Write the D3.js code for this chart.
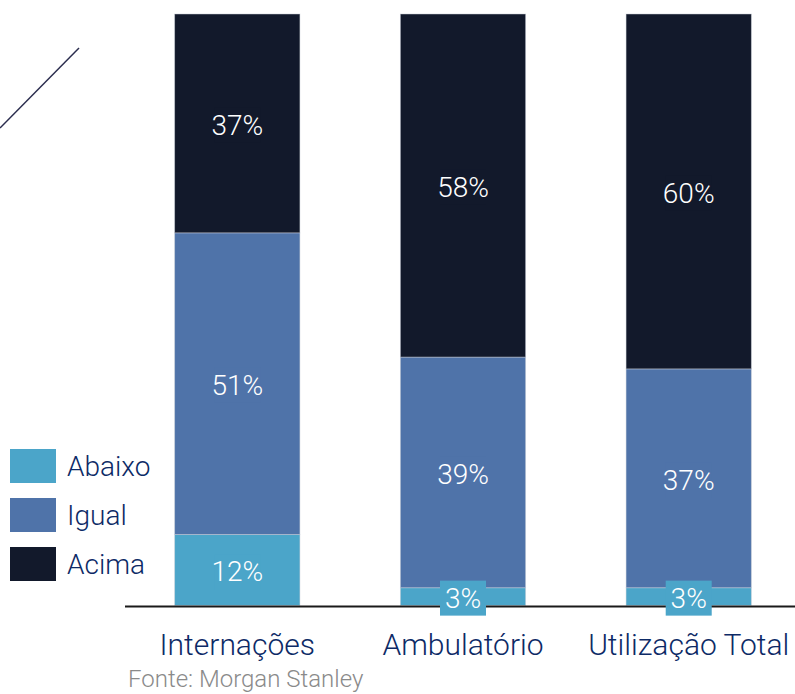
<!DOCTYPE html>
<html>
<head>
<meta charset="utf-8">
<script src="https://cdn.jsdelivr.net/npm/d3@7"></script>
<style>
	html, body { margin: 0; padding: 0; background: #fff; }
	svg { display: block; font-family: Roboto, "Noto Sans", sans-serif; font-weight: 300; }
</style>
</head>
<body>
<div id="chart"></div>
<script>
/* global d3 */

// Chart data
var categories = ['Internações', 'Ambulatório', 'Utilização Total'];
var seriesNames = ['Abaixo', 'Igual', 'Acima'];
var abaixo = [12, 3, 3];
var igual = [51, 39, 37];
var acima = [37, 58, 60];
var source = 'Fonte: Morgan Stanley';

var colors = {
	Abaixo: '#4ba5c9',
	Igual: '#4f73a9',
	Acima: '#12192b'
};
var textColor = '#0d2a66';

(function() {

	var width = 795,
		height = 694;

	var rows = categories.map(function(c, i) {
		return { cat: c, Abaixo: abaixo[i], Igual: igual[i], Acima: acima[i] };
	});
	var series = d3.stack().keys(seriesNames)(rows);

	var svg = d3.select('#chart').append('svg')
		.attr('width', width)
		.attr('height', height);

	var xScale = d3.scaleBand()
		.domain(categories)
		.range([125, 801])
		.paddingInner(0.445)
		.paddingOuter(0.22);

	var yScale = d3.scaleLinear()
		.domain([0, 100])
		.range([605.5, 14]);

	// decorative diagonal stroke
	svg.append('line')
		.attr('x1', 79).attr('y1', 48)
		.attr('x2', 0).attr('y2', 128)
		.attr('stroke', '#2b2d4e')
		.attr('stroke-width', 1.5);

	// Bars
	var gSeries = svg.append('g').attr('class', 'bars')
		.selectAll('g')
		.data(series)
		.enter().append('g')
		.attr('fill', function(d) { return colors[d.key]; });

	gSeries.selectAll('rect')
		.data(function(d) { return d; })
		.enter().append('rect')
		.attr('x', function(d) { return xScale(d.data.cat); })
		.attr('y', function(d) { return yScale(d[1]); })
		.attr('width', xScale.bandwidth())
		.attr('height', function(d) { return yScale(d[0]) - yScale(d[1]); })
		.attr('stroke', '#c9ced8')
		.attr('stroke-opacity', 0.6)
		.attr('stroke-width', 0.8);

	// Baseline
	svg.append('line')
		.attr('x1', 125).attr('x2', width)
		.attr('y1', yScale(0) + 1).attr('y2', yScale(0) + 1)
		.attr('stroke', '#1a1a1a')
		.attr('stroke-width', 2);

	// Value labels (with a box in the series color)
	var labels = svg.append('g').attr('class', 'labels');
	series.forEach(function(s) {
		s.forEach(function(d) {
			var cx = xScale(d.data.cat) + xScale.bandwidth() / 2,
				cy = (yScale(d[0]) + yScale(d[1])) / 2,
				g = labels.append('g').attr('transform', 'translate(' + cx + ',' + cy + ')');
			g.append('rect')
				.attr('x', -23).attr('y', -16)
				.attr('width', 46).attr('height', 35)
				.attr('fill', colors[s.key]);
			g.append('text')
				.attr('text-anchor', 'middle')
				.attr('dy', '0.4em')
				.attr('fill', '#fff')
				.attr('font-size', 28)
				.text((d[1] - d[0]) + '%');
		});
	});

	// Category labels
	svg.append('g').selectAll('text')
		.data(categories)
		.enter().append('text')
		.attr('x', function(d) { return xScale(d) + xScale.bandwidth() / 2; })
		.attr('y', 655)
		.attr('text-anchor', 'middle')
		.attr('fill', textColor)
		.attr('font-size', 30)
		.text(function(d) { return d; });

	// Legend
	var legend = svg.append('g').selectAll('g')
		.data(seriesNames)
		.enter().append('g')
		.attr('transform', function(d, i) { return 'translate(10,' + (449 + i * 49) + ')'; });
	legend.append('rect')
		.attr('width', 46).attr('height', 34)
		.attr('fill', function(d) { return colors[d]; });
	legend.append('text')
		.attr('x', 57).attr('y', 27)
		.attr('fill', textColor)
		.attr('font-size', 28)
		.text(function(d) { return d; });

	// Source
	svg.append('text')
		.attr('x', 128).attr('y', 687)
		.attr('fill', '#8a8a8a')
		.attr('font-size', 24)
		.text(source);

})();
</script>
</body>
</html>
